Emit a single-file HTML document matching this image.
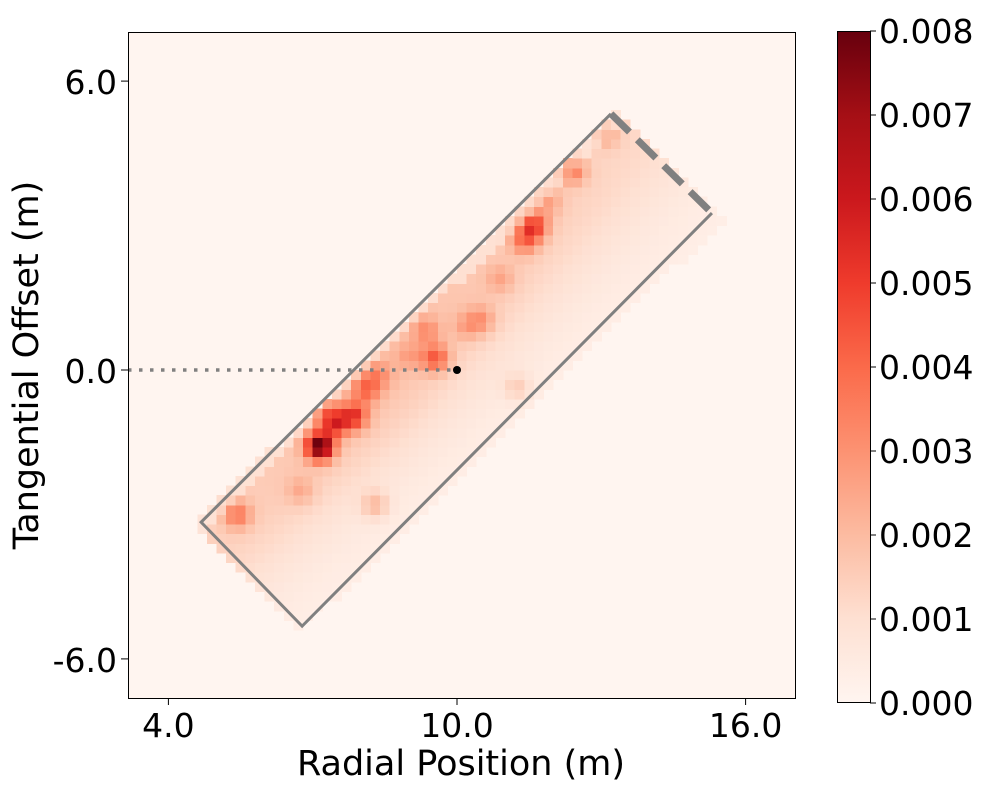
<!DOCTYPE html>
<html><head><meta charset="utf-8"><style>
body{margin:0;background:#fff;font-family:"DejaVu Sans","Liberation Sans",sans-serif;}
svg text{font-family:"DejaVu Sans","Liberation Sans",sans-serif;fill:#000;}
</style></head><body>
<svg id="chart" width="1000" height="800" viewBox="0 0 1000 800">
<defs>
<linearGradient id="redsGrad" x1="0" y1="1" x2="0" y2="0">
<stop offset="0" stop-color="#fff5f0"/><stop offset="0.125" stop-color="#fee0d2"/><stop offset="0.25" stop-color="#fcbba1"/><stop offset="0.375" stop-color="#fc9272"/><stop offset="0.5" stop-color="#fb6a4a"/><stop offset="0.625" stop-color="#ef3b2c"/><stop offset="0.75" stop-color="#cb181d"/><stop offset="0.875" stop-color="#a50f15"/><stop offset="1" stop-color="#67000d"/>
</linearGradient>
<clipPath id="plotClip"><rect x="128" y="32" width="667" height="666"/></clipPath>
</defs>
<rect x="128" y="32" width="667" height="666" fill="#fff5f0"/>
<g id="cells" clip-path="url(#plotClip)" shape-rendering="crispEdges"></g>
<g id="overlay"></g>
<rect x="128.5" y="32.5" width="667" height="666" fill="none" stroke="#000" stroke-width="1" shape-rendering="crispEdges"/>
<g id="axes"></g>
<text x="461" y="775" font-size="35" text-anchor="middle">Radial Position (m)</text>
<text transform="translate(38,365) rotate(-90)" font-size="35" text-anchor="middle">Tangential Offset (m)</text>
<rect x="837.5" y="31.5" width="33" height="671" fill="url(#redsGrad)" stroke="#000" stroke-width="1" shape-rendering="crispEdges"/>
<g id="cbar"></g>
</svg>
<script>
// ---- data ----
const xTicks = [4.0, 10.0, 16.0];
const yTicks = [6.0, 0.0, -6.0];
const cbarTicks = [0.000, 0.001, 0.002, 0.003, 0.004, 0.005, 0.006, 0.007, 0.008];
const rectCorners = [[4.68,-3.16],[6.78,-5.32],[15.30,3.26],[13.20,5.32]];
const spotX = [7.15, 7.45, 7.85, 8.1, 8.35, 9.55, 9.35, 11.6, 11.4, 12.4, 13.1, 5.43, 8.3, 11.25, 10.5, 6.75, 9.0, 10.9, 11.9, 7.2, 10.2];
const spotY = [-1.58, -1.1, -0.95, -0.4, -0.1, 0.25, 0.83, 3.0, 2.7, 4.15, 4.9, -3.0, -2.8, -0.35, 1.05, -2.5, 0.3, 1.9, 3.5, -0.8, 0.9];
const spotV = [0.0068, 0.0035, 0.0035, 0.0022, 0.0015, 0.0028, 0.0015, 0.0035, 0.0022, 0.0022, 0.0012, 0.0022, 0.0014, 0.0010, 0.0014, 0.0010, 0.0010, 0.0010, 0.0012, 0.0015, 0.0010];
const ridgeLevel = [0.0011, 0.0012, 0.0013, 0.0014, 0.0015, 0.0015, 0.0014, 0.0014, 0.0013, 0.0012, 0.0011, 0.0010, 0.0009];
const cellSize = 0.2;
const vmax = 0.008;
// ---- scales ----
const X = x => 457 + (x - 10) * 48.1;
const Y = y => 370 - y * 48.15;
const reds = ["#fff5f0","#fee0d2","#fcbba1","#fc9272","#fb6a4a","#ef3b2c","#cb181d","#a50f15","#67000d"];
function hex(c){return [parseInt(c.slice(1,3),16),parseInt(c.slice(3,5),16),parseInt(c.slice(5,7),16)];}
function color(v){
  let t=Math.max(0,Math.min(1,v/vmax))*8; let i=Math.min(7,Math.floor(t)); let f=t-i;
  const a=hex(reds[i]),b=hex(reds[i+1]);
  return "rgb("+a.map((c,k)=>Math.round(c+(b[k]-c)*f)).join(",")+")";
}
const NS="http://www.w3.org/2000/svg";
function el(tag,attrs,parent){const e=document.createElementNS(NS,tag);for(const k in attrs)e.setAttribute(k,attrs[k]);parent.appendChild(e);return e;}
const p0=rectCorners[0], p3=rectCorners[3], p1=rectCorners[1];
const ux=(p3[0]-p0[0]), uy=(p3[1]-p0[1]); const uL=Math.hypot(ux,uy);
const vx=(p1[0]-p0[0]), vy=(p1[1]-p0[1]); const vL=Math.hypot(vx,vy);
const cells=document.getElementById('cells');
for(let x=3.2;x<17.0;x+=cellSize){
  for(let y=-6.8;y<7.0;y+=cellSize){
    const cx=x+cellSize/2, cy=y+cellSize/2;
    const dx=cx-p0[0], dy=cy-p0[1];
    const u=(dx*ux+dy*uy)/(uL*uL), v=(dx*vx+dy*vy)/(vL*vL);
    if(u<-0.01||u>1.01||v<-0.02||v>1.02) continue;
    const ri=Math.max(0,Math.min(ridgeLevel.length-1,u*(ridgeLevel.length-1)));
    const r0=Math.floor(ri), r1=Math.min(ridgeLevel.length-1,r0+1);
    const ridge=ridgeLevel[r0]+(ridgeLevel[r1]-ridgeLevel[r0])*(ri-r0);
    let val=ridge*Math.exp(-Math.pow(Math.max(0,v-0.15)/0.5,2))+0.0003;
    if(v<0.05) val*=0.6;
    for(let k=0;k<spotX.length;k++){
      const d2=(cx-spotX[k])**2+(cy-spotY[k])**2;
      val+=spotV[k]*Math.exp(-d2/(2*0.2*0.2));
    }
    const r=el('rect',{x:X(x).toFixed(2),y:Y(y+cellSize).toFixed(2),width:(cellSize*48.1+0.5).toFixed(2),height:(cellSize*48.15+0.5).toFixed(2),fill:color(val)},cells);
    
    
  }
}
const ov=document.getElementById('overlay');
const c=rectCorners.map(p=>[X(p[0]),Y(p[1])]);
const outline=el('polyline',{points:[c[3],c[0],c[1],c[2]].map(p=>p.join(",")).join(" "),fill:"none",stroke:"#808080","stroke-width":3},ov);


const dash=el('line',{x1:c[3][0],y1:c[3][1],x2:c[2][0],y2:c[2][1],stroke:"#808080","stroke-width":7,"stroke-dasharray":"26,11"},ov);


const dot=el('line',{x1:X(3.16),y1:Y(0),x2:X(10),y2:Y(0),stroke:"#808080","stroke-width":3.5,"stroke-dasharray":"3.5,7.5"},ov);


const pt=el('circle',{cx:X(10),cy:Y(0),r:4,fill:"#000"},ov);


const ax=document.getElementById('axes');
xTicks.forEach(t=>{
  const l=el('line',{x1:X(t),y1:698,x2:X(t),y2:705,stroke:"#000","stroke-width":1},ax);
  
  
  const tx=el('text',{x:X(t),y:737,"font-size":33,"text-anchor":"middle"},ax);tx.textContent=t.toFixed(1);
  
  
});
yTicks.forEach(t=>{
  const l=el('line',{x1:121,y1:Y(t),x2:128,y2:Y(t),stroke:"#000","stroke-width":1},ax);
  
  
  const tx=el('text',{x:117,y:Y(t)+13,"font-size":33,"text-anchor":"end"},ax);tx.textContent=t.toFixed(1);
  
  
});
const cb=document.getElementById('cbar');
cbarTicks.forEach(t=>{
  const yy=703-t/vmax*672;
  const l=el('line',{x1:870,y1:yy,x2:876,y2:yy,stroke:"#000","stroke-width":1},cb);
  
  
  const tx=el('text',{x:879,y:yy+12,"font-size":33},cb);tx.textContent=t.toFixed(3);
  
  
});
</script>
</body></html>
